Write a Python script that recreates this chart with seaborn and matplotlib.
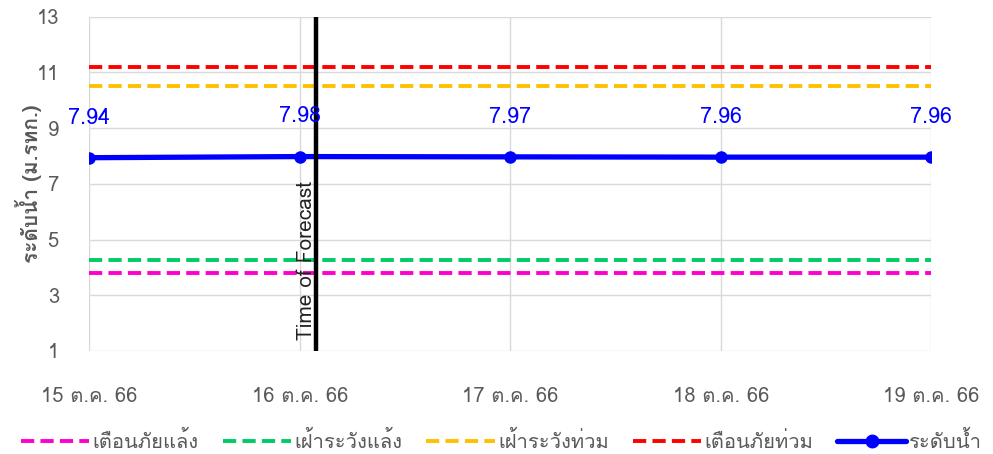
import pandas as pd
import seaborn as sns
import matplotlib.pyplot as plt
from matplotlib import font_manager as fm
from matplotlib.ft2font import FT2Font
from matplotlib.lines import Line2D


def find_thai_font():
    for f in fm.fontManager.ttflist:
        try:
            if ord("ก") in FT2Font(f.fname).get_charmap():
                return f.name
        except Exception:
            pass
    return None


dates = ["2023-10-15", "2023-10-16", "2023-10-17", "2023-10-18", "2023-10-19"]
date_labels = ["15 ต.ค. 66", "16 ต.ค. 66", "17 ต.ค. 66", "18 ต.ค. 66", "19 ต.ค. 66"]
water_level = [7.94, 7.98, 7.97, 7.96, 7.96]
threshold_names = ["เตือนภัยแล้ง", "เฝ้าระวังแล้ง", "เฝ้าระวังท่วม", "เตือนภัยท่วม"]
threshold_values = [3.8, 4.27, 10.5, 11.2]
level_name = "ระดับน้ำ"
forecast_time = "2023-10-16 01:50"

sns.set_style("white")
thai = find_thai_font()
plt.rcParams["font.family"] = [thai, "DejaVu Sans"] if thai else ["DejaVu Sans"]

x = pd.to_datetime(dates)
thr = pd.DataFrame({
    "date": list(x) * len(threshold_names),
    "value": [v for v in threshold_values for _ in dates],
    "name": [n for n in threshold_names for _ in dates],
})
level = pd.DataFrame({"date": x, "value": water_level})

colors = ["#FF00CC", "#00CC66", "#FFC000", "#FF0000"]
palette = dict(zip(threshold_names, colors))
dash = (3.4, 1.6)

fig, ax = plt.subplots(figsize=(9.93, 4.54), dpi=100)
sns.lineplot(thr, x="date", y="value", hue="name", palette=palette, ax=ax,
             linewidth=2.8, legend=False)
for l in ax.get_lines():
    l.set_dashes(dash)
sns.lineplot(level, x="date", y="value", color="#0000FF", linewidth=3.8,
             marker="o", markersize=9, markeredgewidth=0, ax=ax, legend=False)

for d, v in zip(x, water_level):
    ax.annotate(f"{v:.2f}", (d, v), xytext=(0, 21), textcoords="offset points",
                ha="center", va="bottom", color="#0000FF", fontsize=15.5)

ft = pd.to_datetime(forecast_time)
ax.axvline(ft, color="black", linewidth=3.2)
ax.text(ft, 1.4, "Time of Forecast", rotation=90, ha="right", va="bottom",
        fontsize=15, color="#222222")

ax.set_ylim(1, 13)
ax.set_yticks(range(1, 14, 2))
ax.set_xlim(x[0], x[-1])
ax.set_xticks(x)
ax.set_xticklabels(date_labels)
ax.tick_params(axis="x", labelsize=14.5, labelcolor="#595959", length=0, pad=26)
ax.tick_params(axis="y", labelsize=14.5, labelcolor="#595959", length=0, pad=22)
ax.grid(True, color="#D9D9D9", linewidth=1)
for s in ax.spines.values():
    s.set_visible(False)
ax.set_xlabel("")
ax.set_ylabel("ระดับน้ำ (ม.รทก.)", fontsize=15, color="#595959", fontweight="bold",
              labelpad=-4)

handles = [Line2D([], [], color=c, linewidth=2.8, dashes=dash) for c in colors]
handles.append(Line2D([], [], color="#0000FF", linewidth=3.8, marker="o", markersize=9))
fig.legend(handles, threshold_names + [level_name], loc="lower center", ncol=5,
           frameon=False, fontsize=14.5, handlelength=3.4, handletextpad=0.15,
           columnspacing=1.2, bbox_to_anchor=(0.505, -0.035), labelcolor="#595959")

fig.subplots_adjust(left=0.09, right=0.938, top=0.963, bottom=0.227)
fig.savefig("out.png", dpi=100)
